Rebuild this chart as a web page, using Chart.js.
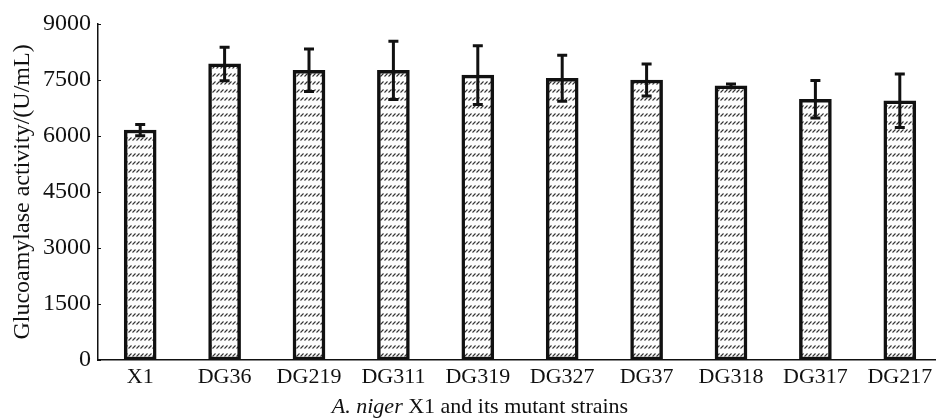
<!DOCTYPE html>
<html>
<head>
<meta charset="utf-8">
<script src="https://cdn.jsdelivr.net/npm/chart.js@4/dist/chart.umd.min.js"></script>
<style>
    html, body { margin: 0; padding: 0; background: #fff; overflow: hidden; }
    #wrap { position: relative; width: 944px; height: 418px; }
</style>
</head>
<body>
<div id="wrap"><canvas id="grafico"></canvas></div>
<script>
// datos
const cepas   = ['X1', 'DG36', 'DG219', 'DG311', 'DG319', 'DG327', 'DG37', 'DG318', 'DG317', 'DG217'];
const valores = [6160, 7930, 7760, 7760, 7630, 7545, 7500, 7345, 6985, 6945];
const errores = [150, 450, 570, 780, 785, 615, 430, 50, 500, 715];
const ticksY  = [0, 1500, 3000, 4500, 6000, 7500, 9000];

const FUENTE = 'Liberation Serif';

// trama de rayas para el relleno de las barras
function crearTrama() {
    const c = document.createElement('canvas');
    c.width = 4; c.height = 8;
    const g = c.getContext('2d');
    g.fillStyle = '#fdfdfd';
    g.fillRect(0, 0, 4, 8);
    g.strokeStyle = '#333';
    g.lineWidth = 1.1;
    g.beginPath();
    g.moveTo(0.5, 4.5);
    g.lineTo(3.5, 1.5);
    g.stroke();
    return g.createPattern(c, 'repeat');
}

// barras de error
const pluginErrores = {
    id: 'errores',
    afterDatasetsDraw(chart) {
        const ctx  = chart.ctx;
        const y    = chart.scales.y;
        const meta = chart.getDatasetMeta(0);
        ctx.save();
        ctx.strokeStyle = '#111';
        ctx.lineWidth = 3;
        meta.data.forEach(function (bar, i) {
            const yA = y.getPixelForValue(valores[i] + errores[i]);
            const yB = y.getPixelForValue(valores[i] - errores[i]);
            ctx.beginPath();
            ctx.moveTo(bar.x, yA); ctx.lineTo(bar.x, yB);
            ctx.moveTo(bar.x - 5, yA); ctx.lineTo(bar.x + 5, yA);
            ctx.moveTo(bar.x - 5, yB); ctx.lineTo(bar.x + 5, yB);
            ctx.stroke();
        });
        ctx.restore();
    },
    afterDraw(chart) {
        const ctx  = chart.ctx;
        const y    = chart.scales.y;
        const area = chart.chartArea;
        ctx.save();
        // marcas interiores del eje Y
        ctx.strokeStyle = '#111';
        ctx.lineWidth = 1;
        ticksY.forEach(function (v) {
            const py = Math.round(y.getPixelForValue(v)) + 0.5;
            ctx.beginPath();
            ctx.moveTo(area.left, py); ctx.lineTo(area.left + 3, py);
            ctx.stroke();
        });
        // título del eje X (cursiva parcial)
        const parte1 = 'A. niger';
        const parte2 = ' X1 and its mutant strains';
        ctx.fillStyle = '#111';
        ctx.textBaseline = 'alphabetic';
        ctx.font = 'italic 22px "' + FUENTE + '"';
        const w1 = ctx.measureText(parte1).width;
        ctx.font = '22px "' + FUENTE + '"';
        const w2 = ctx.measureText(parte2).width;
        const x0 = 480 - (w1 + w2) / 2;
        ctx.font = 'italic 22px "' + FUENTE + '"';
        ctx.fillText(parte1, x0, 413);
        ctx.font = '22px "' + FUENTE + '"';
        ctx.fillText(parte2, x0 + w1, 413);
        ctx.restore();
    }
};

const ctx = document.getElementById('grafico').getContext('2d');
new Chart(ctx, {
    type: 'bar',
    data: {
        labels: cepas,
        datasets: [{
            data: valores,
            backgroundColor: crearTrama(),
            borderColor: '#111',
            borderWidth: 3.5,
            borderSkipped: false,
            barThickness: 32
        }]
    },
    options: {
        responsive: true,
        maintainAspectRatio: false,
        animation: false,
        devicePixelRatio: 1,
        layout: { padding: { top: 24, right: 2, left: 0, bottom: 0 } },
        plugins: {
            legend: { display: false },
            tooltip: { enabled: false }
        },
        scales: {
            x: {
                offset: true,
                grid: { display: false, drawTicks: false },
                border: { color: '#111', width: 1.5 },
                ticks: {
                    color: '#111',
                    padding: 4,
                    font: { family: FUENTE, size: 22 },
                    maxRotation: 0,
                    autoSkip: false
                },
                afterFit: function (s) { s.height = 58; }
            },
            y: {
                min: 0,
                max: 9000,
                afterBuildTicks: function (s) {
                    s.ticks = ticksY.map(function (v) { return { value: v }; });
                },
                grid: { display: false, drawTicks: false },
                border: { color: '#111', width: 1.5 },
                ticks: {
                    color: '#111',
                    padding: 7,
                    font: { family: FUENTE, size: 24 },
                    callback: function (v) { return String(v); }
                },
                title: {
                    display: true,
                    text: 'Glucoamylase activity/(U/mL)',
                    color: '#111',
                    font: { family: FUENTE, size: 24 },
                    padding: { top: 8, bottom: 0 }
                },
                afterFit: function (s) { s.width = 98; }
            }
        }
    },
    plugins: [pluginErrores]
});
</script>
</body>
</html>
